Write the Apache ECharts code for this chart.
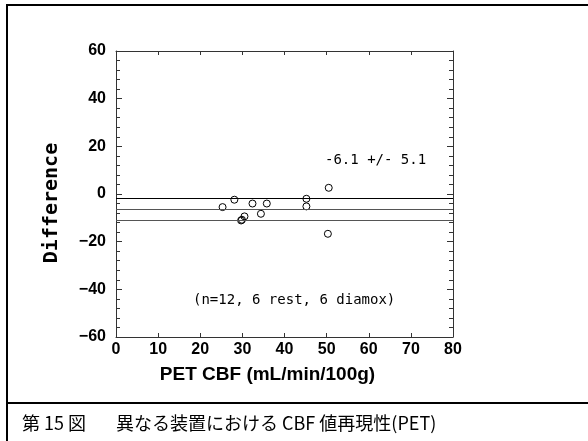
<!DOCTYPE html>
<html><head><meta charset="utf-8">
<script src="https://cdn.jsdelivr.net/npm/echarts@6/dist/echarts.min.js"></script>
<style>html,body{margin:0;padding:0;background:#fff}#c{width:588px;height:441px}</style>
</head><body><div id="c"></div>
<script>
// ---- data ----
const pointX    = [25.3, 28.1, 32.4, 35.8, 34.4, 30.5, 29.9, 29.7, 45.2, 45.2, 50.5, 50.3];
const pointDiff = [-5.5, -2.4, -4.0, -4.0, -8.3, -9.4, -10.8, -11.1, -2.0, -5.2, 2.6, -16.7];
const refLines  = [-1.6, -6.4, -11.0];   // mean + SD, mean, mean - SD (as drawn)
const xRange = [0, 80], xStep = 10;
const yRange = [-60, 60], yStep = 20;
const meanText = '-6.1 +/- 5.1';
const noteText = '(n=12, 6 rest, 6 diamox)';
const xTitle = 'PET CBF (mL/min/100g)';
const yTitle = 'Difference';
const captionNo = '第 15 図';
const captionText = '異なる装置における CBF 値再現性(PET)';

const chart = echarts.init(document.getElementById('c'), null, {renderer: 'canvas'});
const tickFont = {fontFamily: 'Liberation Sans, Arial, sans-serif', fontWeight: 'bold', fontSize: 16, color: '#000'};
const axLine = {show: true, onZero: false, lineStyle: {color: '#333', width: 1}};
const mono = 'DejaVu Sans Mono, Liberation Mono, monospace';

function xAx(pos, labels) {
  return {type: 'value', min: xRange[0], max: xRange[1], interval: xStep, position: pos,
    axisLine: axLine, splitLine: {show: false},
    axisTick: {show: true, inside: true, length: 4, lineStyle: {color: '#333'}},
    axisLabel: Object.assign({show: labels, margin: 5}, tickFont)};
}
function yAx(pos, labels) {
  return {type: 'value', min: yRange[0], max: yRange[1], interval: yStep, position: pos,
    axisLine: axLine, splitLine: {show: false},
    axisTick: {show: true, inside: true, length: 6, lineStyle: {color: '#333'}},
    minorTick: {show: true, splitNumber: 5, length: 4, lineStyle: {color: '#333'}},
    minorSplitLine: {show: false},
    axisLabel: Object.assign({show: labels, margin: 10,
      formatter: v => String(v).replace('-', '\u2212')}, tickFont)};
}

chart.setOption({
  animation: false,
  backgroundColor: '#fff',
  grid: {left: 116, right: 135, top: 51, bottom: 104},
  xAxis: [xAx('bottom', true), xAx('top', false)],
  yAxis: [yAx('left', true), yAx('right', false)],
  series: [
    {type: 'scatter', xAxisIndex: 0, yAxisIndex: 0, silent: true,
     data: pointX.map((x, i) => [x, pointDiff[i]]),
     symbol: 'circle', symbolSize: 7,
     itemStyle: {color: 'rgba(0,0,0,0)', borderColor: '#000', borderWidth: 1, opacity: 1},
     markLine: {silent: true, symbol: 'none', label: {show: false},
       data: refLines.map((v, i) => ({yAxis: v,
         lineStyle: {color: i === 0 ? '#000' : '#555', width: 1, type: 'solid'}}))}}
  ],
  graphic: [
    {type: 'line', shape: {x1: 6, y1: 5, x2: 588, y2: 5}, style: {stroke: '#000', lineWidth: 2}},
    {type: 'line', shape: {x1: 7, y1: 4, x2: 7, y2: 441}, style: {stroke: '#000', lineWidth: 2}},
    {type: 'line', shape: {x1: 6, y1: 403, x2: 588, y2: 403}, style: {stroke: '#000', lineWidth: 2}},
    {type: 'text', x: 325, y: 160, style: {text: meanText, font: '14px ' + mono, fill: '#000', textVerticalAlign: 'middle'}},
    {type: 'text', x: 193, y: 300, style: {text: noteText, font: '14px ' + mono, fill: '#000', textVerticalAlign: 'middle'}},
    {type: 'text', x: 267.5, y: 375, style: {text: xTitle, font: 'bold 19px Liberation Sans, Arial, sans-serif', fill: '#000', textAlign: 'center', textVerticalAlign: 'middle'}},
    {type: 'text', x: 51.5, y: 203, rotation: Math.PI / 2, style: {text: yTitle, font: 'bold 20px ' + mono, fill: '#000', textAlign: 'center', textVerticalAlign: 'middle'}},
    {type: 'text', x: 22, y: 423, style: {text: captionNo, font: '18px Noto Sans CJK JP, sans-serif', fill: '#000', textVerticalAlign: 'middle'}},
    {type: 'text', x: 116, y: 423, style: {text: captionText, font: '18px Noto Sans CJK JP, sans-serif', fill: '#000', textVerticalAlign: 'middle'}}
  ]
});
</script></body></html>
